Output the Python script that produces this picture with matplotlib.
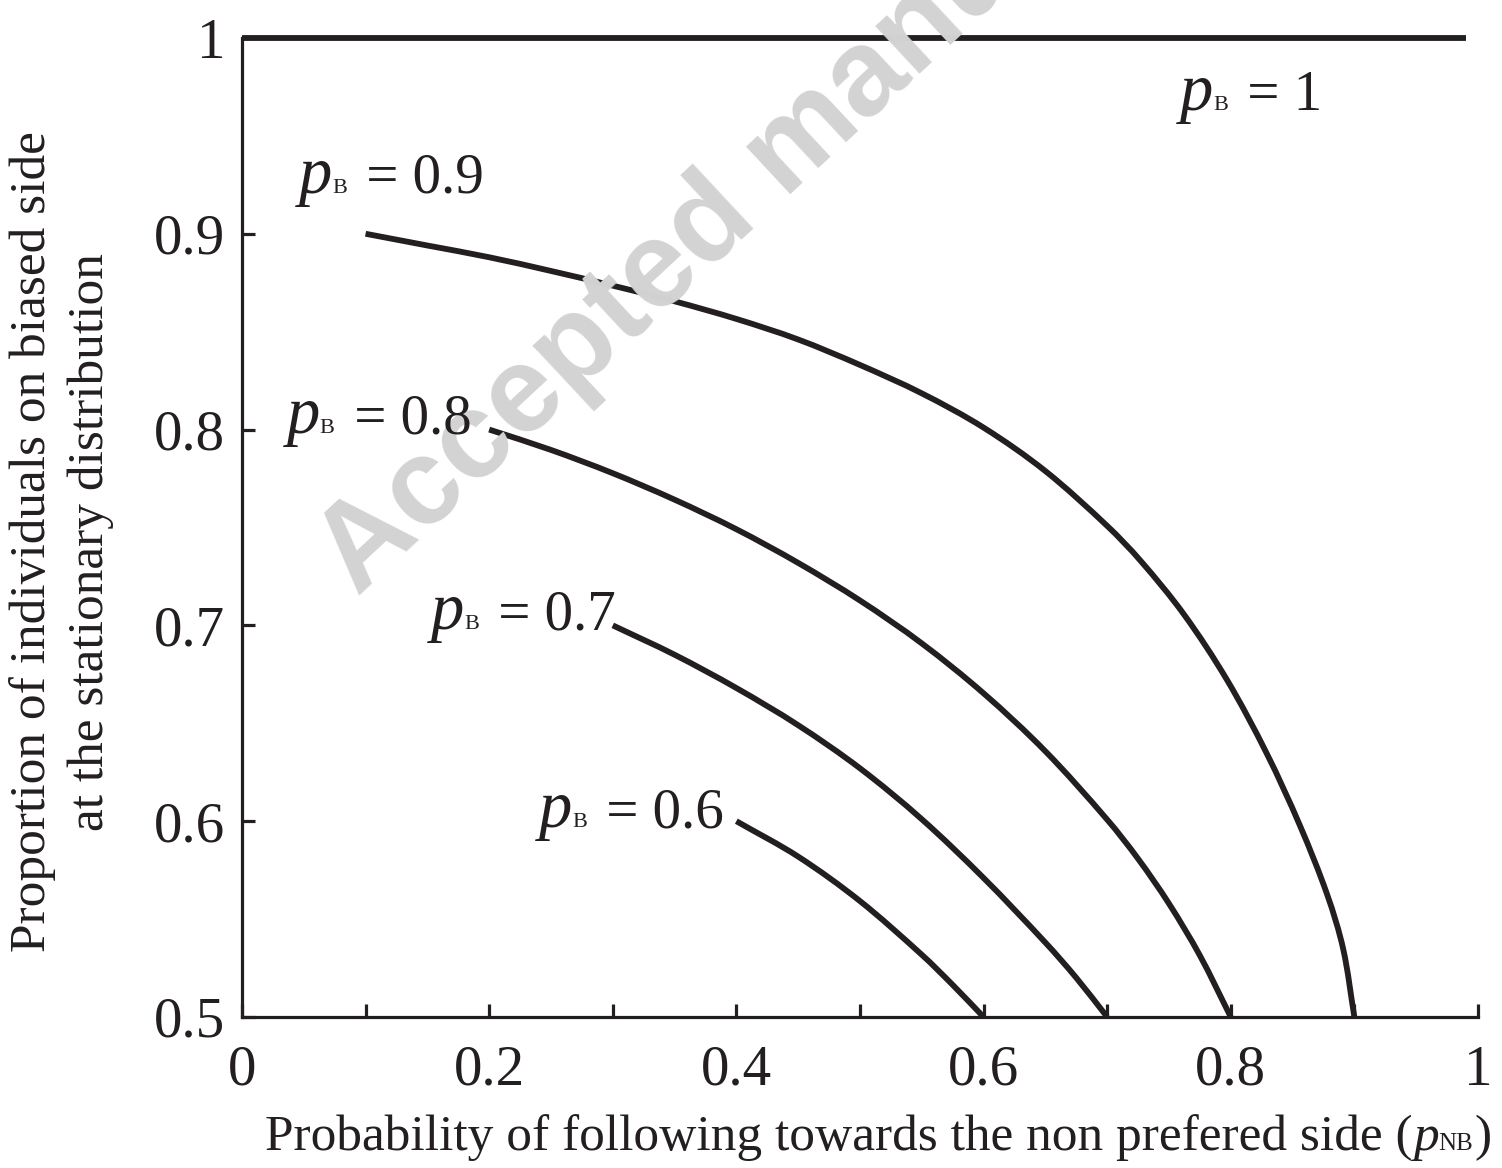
import matplotlib
matplotlib.use("Agg")
import numpy as np
import matplotlib.pyplot as plt
from matplotlib.ticker import FixedLocator
from matplotlib.path import Path
from matplotlib.patches import PathPatch
import matplotlib.transforms as mtransforms

plt.rcParams['font.family'] = ['Liberation Serif', 'DejaVu Serif']

# ---- data ----
x_pb10 = [0.0, 0.99]
y_pb10 = [1.0, 1.0]

x_pb09 = [0.10, 0.15, 0.20, 0.25, 0.30, 0.35, 0.40, 0.45, 0.50, 0.55, 0.60, 0.65,
          0.70, 0.727, 0.762, 0.797, 0.829, 0.856, 0.878, 0.891, 0.90]
y_pb09 = [0.900, 0.894, 0.888, 0.881, 0.8735, 0.8655, 0.8565, 0.846, 0.833, 0.8185, 0.801, 0.7788,
          0.7508, 0.733, 0.7057, 0.6721, 0.6347, 0.5977, 0.5625, 0.5346, 0.500]

x_pb08 = [0.20, 0.25, 0.30, 0.35, 0.40, 0.45, 0.50, 0.55, 0.60, 0.65, 0.70, 0.725, 0.75, 0.775, 0.80]
y_pb08 = [0.800, 0.7896, 0.7777, 0.7642, 0.7491, 0.7319, 0.7127, 0.6908, 0.6653, 0.6357, 0.6008,
          0.5808, 0.5579, 0.5314, 0.500]

x_pb07 = [0.30, 0.35, 0.40, 0.45, 0.50, 0.55, 0.60, 0.65, 0.675, 0.70]
y_pb07 = [0.700, 0.685, 0.668, 0.649, 0.627, 0.601, 0.571, 0.538, 0.520, 0.500]

x_pb06 = [0.40, 0.45, 0.50, 0.55, 0.575, 0.60]
y_pb06 = [0.600, 0.5819, 0.5592, 0.5318, 0.5164, 0.500]

curve_values = ['1', '0.9', '0.8', '0.7', '0.6']
label_pos = [(0.759, 0.963), (0.046, 0.921), (0.036, 0.798), (0.153, 0.698), (0.240, 0.597)]

x_ticks_major = [0, 0.2, 0.4, 0.6, 0.8, 1.0]
x_ticklabels = ['0', '0.2', '0.4', '0.6', '0.8', '1']
x_ticks_minor = [0.1, 0.3, 0.5, 0.7, 0.9]
y_ticks = [0.5, 0.6, 0.7, 0.8, 0.9, 1.0]
y_ticklabels = ['0.5', '0.6', '0.7', '0.8', '0.9', '1']

xlabel_main = 'Probability of following towards the non prefered side ('
xlabel_sym = 'p'
xlabel_sub = 'NB'
ylabel = 'Proportion of individuals on biased side\nat the stationary distribution'

col = '#231f20'

# ---- figure ----
fig = plt.figure(figsize=(15.02, 11.68), dpi=100)
ax = fig.add_axes([0.1611, 0.1293, 0.8229, 0.8382])
ax.set_facecolor('none')
ax.set_xlim(0, 1)
ax.set_ylim(0.5, 1)

# watermark
fig.text(0.238, 0.4880, 'Accepted manuscript', fontsize=88, fontweight='bold',
         family='Liberation Sans', color='#d3d3d3', rotation=43,
         rotation_mode='anchor', ha='left', va='baseline', zorder=0)


def smooth_line(xs, ys, lw):
    """Draw a line through the read points as a smooth Bezier path."""
    P = ax.transData.transform(np.column_stack([xs, ys]))
    n = len(P)
    d = np.linalg.norm(np.diff(P, axis=0), axis=1)
    t = np.concatenate([[0], np.cumsum(d)])
    T = np.zeros_like(P)
    T[0] = (P[1] - P[0]) / (t[1] - t[0])
    T[-1] = (P[-1] - P[-2]) / (t[-1] - t[-2])
    for i in range(1, n - 1):
        T[i] = (P[i + 1] - P[i - 1]) / (t[i + 1] - t[i - 1])
    verts = [tuple(P[0])]
    codes = [Path.MOVETO]
    for i in range(n - 1):
        h = t[i + 1] - t[i]
        verts += [tuple(P[i] + T[i] * h / 3), tuple(P[i + 1] - T[i + 1] * h / 3), tuple(P[i + 1])]
        codes += [Path.CURVE4] * 3
    vd = ax.transData.inverted().transform(np.array(verts))
    patch = PathPatch(Path(vd, codes), facecolor='none', edgecolor=col, lw=lw,
                      capstyle='butt', joinstyle='round', transform=ax.transData,
                      clip_on=False, zorder=3)
    ax.add_patch(patch)


lw = 4.2
ax.plot(x_pb10, y_pb10, color=col, lw=lw, solid_capstyle='butt', clip_on=False, zorder=3)
for xs, ys in [(x_pb09, y_pb09), (x_pb08, y_pb08), (x_pb07, y_pb07), (x_pb06, y_pb06)]:
    smooth_line(xs, ys, lw)

ax.spines['top'].set_visible(False)
ax.spines['right'].set_visible(False)
for s in ['left', 'bottom']:
    ax.spines[s].set_linewidth(2.3)
    ax.spines[s].set_color(col)

ax.xaxis.set_major_locator(FixedLocator(x_ticks_major))
ax.xaxis.set_minor_locator(FixedLocator(x_ticks_minor))
ax.set_xticklabels(x_ticklabels)
ax.set_yticks(y_ticks)
ax.set_yticklabels(y_ticklabels)
ax.tick_params(axis='both', which='both', direction='in', length=9.5, width=2.3,
               color=col, labelsize=41, labelcolor=col)
ax.tick_params(axis='x', which='major', pad=20)
ax.tick_params(axis='y', which='major', pad=12)

renderer = fig.canvas.get_renderer()
ident = mtransforms.IdentityTransform()


def pieces_width(pieces):
    w = 0
    for s, size, style, gap in pieces:
        t = fig.text(0, 0, s, fontsize=size, style=style, transform=ident)
        w += t.get_window_extent(renderer).width + gap
        t.remove()
    return w


def place_pieces(x0, y0, pieces):
    x = x0
    for s, size, style, gap in pieces:
        t = fig.text(x, y0, s, fontsize=size, style=style, color=col, transform=ident,
                     ha='left', va='baseline', zorder=4)
        x += t.get_window_extent(renderer).width + gap


# curve labels: italic p, small B on the baseline, " = value"
for val, (lx, ly) in zip(curve_values, label_pos):
    X, Y = ax.transData.transform((lx, ly))
    place_pieces(X, Y, [('p', 48, 'italic', 0), ('B', 16, 'normal', 5),
                        (' = ' + val, 41, 'normal', 0)])

# x label
xl_pieces = [(xlabel_main, 37, 'normal', 0), (xlabel_sym, 37, 'italic', 0),
             (xlabel_sub, 18, 'normal', 1), (')', 37, 'normal', 0)]
W = pieces_width(xl_pieces)
place_pieces(1502 * 0.5846 - W / 2, 1168 - 1150, xl_pieces)

fig.text(0.041, 0.536, ylabel, fontsize=37, color=col, ha='center', va='center',
         rotation=90, linespacing=1.3)

fig.savefig('out.png', dpi=100)
